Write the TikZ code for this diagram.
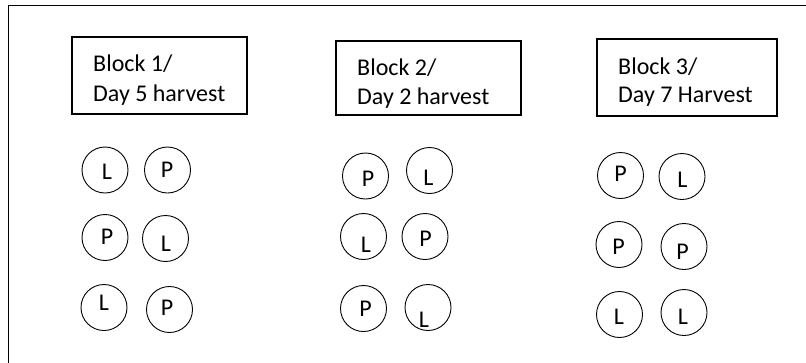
\documentclass[tikz,border=0pt]{standalone}
\usepackage{fontspec}
\setmainfont{Carlito}
\begin{document}
\begin{tikzpicture}[x=1pt,y=-1pt,
  plotbox/.style={draw, line width=1.2pt, rectangle, inner sep=0pt},
  plant/.style={draw, line width=0.9pt, circle, inner sep=0pt, minimum size=46pt},
  tag/.style={font=\fontsize{24}{30}\selectfont, inner sep=0pt},
  lbl/.style={tag, anchor=base west}]
\useasboundingbox (0,0) rectangle (806,362);
% outer field border, running off the right and bottom edges
\begin{scope}
\clip (0,0) rectangle (806,362);
\draw[line width=1pt] (8,380) -- (8,5) -- (830,5);
\end{scope}

% block headers
\node[plotbox, minimum width=175pt, minimum height=77pt] (b1) at (159.5,75.5) {};
\node[lbl] (b1a) at (93,71) {Block 1/};
\node[lbl] (b1b) at (93,101) {Day 5 harvest};

\node[plotbox, minimum width=185pt, minimum height=74pt] (b2) at (428.5,78) {};
\node[lbl] (b2a) at (357,75) {Block 2/};
\node[lbl] (b2b) at (357,104) {Day 2 harvest};

\node[plotbox, minimum width=180pt, minimum height=77pt] (b3) at (687,77.5) {};
\node[lbl] (b3a) at (618,74) {Block 3/};
\node[lbl] (b3b) at (618,102) {Day 7 Harvest};

% plants: each circle, then its letter where it sits inside

% block 1
\node[plant] (p11) at (105,170) {};   \node[tag] (p11t) at (107,172) {L};
\node[plant] (p12) at (167.5,170) {}; \node[tag] (p12t) at (167,170) {P};
\node[plant] (p21) at (105,237.5) {}; \node[tag] (p21t) at (107,237) {P};
\node[plant] (p22) at (165.5,238.5) {}; \node[tag] (p22t) at (166,244) {L};
\node[plant] (p31) at (104,307.5) {}; \node[tag] (p31t) at (104,303) {L};
\node[plant] (p32) at (169.5,309.5) {}; \node[tag] (p32t) at (167,308) {P};

% block 2
\node[plant] (q11) at (365.5,176) {}; \node[tag] (q11t) at (368,179) {P};
\node[plant] (q12) at (429.5,170.5) {}; \node[tag] (q12t) at (428.5,177.5) {L};
\node[plant] (q21) at (363.5,236.5) {}; \node[tag] (q21t) at (366,245) {L};
\node[plant] (q22) at (425,236.5) {}; \node[tag] (q22t) at (425.5,239) {P};
\node[plant] (q31) at (363.5,308.5) {}; \node[tag] (q31t) at (365.5,308.5) {P};
\node[plant] (q32) at (428,307.5) {}; \node[tag] (q32t) at (424,320) {L};

% block 3
\node[plant] (r11) at (620.5,175.5) {}; \node[tag] (r11t) at (620.5,174) {P};
\node[plant] (r12) at (682,176.5) {}; \node[tag] (r12t) at (682.5,180) {L};
\node[plant] (r21) at (619,244.5) {}; \node[tag] (r21t) at (618.5,247) {P};
\node[plant] (r22) at (684,246.5) {}; \node[tag] (r22t) at (682.5,252) {P};
\node[plant] (r31) at (619.5,314.5) {}; \node[tag] (r31t) at (619,316.5) {L};
\node[plant] (r32) at (684,312.5) {}; \node[tag] (r32t) at (683,316.5) {L};
\end{tikzpicture}
\end{document}
